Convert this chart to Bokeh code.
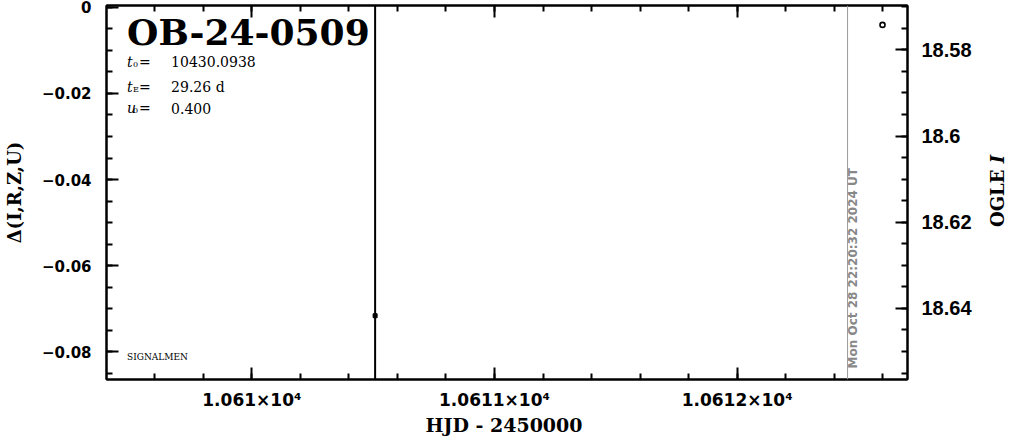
import numpy as np
from bokeh.plotting import figure
from bokeh.models import Range1d, LinearAxis, FixedTicker, Label, Span, Div
from bokeh.layouts import row, column
from bokeh.embed import file_html
from bokeh.resources import INLINE

# ---------------- data ----------------
event_name = "OB-24-0509"
t0_text = "10430.0938"
tE_text = "29.26 d"
u0_text = "0.400"

hjd = [10610.508]          # HJD - 2450000
mag = [18.6417]            # OGLE I
mag_err = [0.5]

hjd_open = [10612.599]
mag_open = [18.5742]

now_hjd = 10612.455
now_text = "Mon Oct 28 22:20:32 2024 UT"
signature = "SIGNALMEN"

x_title = "HJD - 2450000"
y_left_title = "Δ(I,R,Z,U)"
y_right_title = "OGLE <i>I</i>"

x_ticks = [10610, 10611, 10612]
x_tick_labels = ["1.061×10⁴", "1.0611×10⁴", "1.0612×10⁴"]
dy_ticks = [0.0, -0.02, -0.04, -0.06, -0.08]
dy_tick_labels = ["0", "−0.02", "−0.04", "−0.06", "−0.08"]
mag_ticks = [18.58, 18.6, 18.62, 18.64]
mag_tick_labels = ["18.58", "18.6", "18.62", "18.64"]

x_lo, x_hi = 10609.401, 10612.702
dy_lo, dy_hi = -0.0864, 0.0004
mag_base = 18.5701  # OGLE I at delta = 0


# reference-pixel helpers for annotation placement
def rx(px):
    return 10610 + (px - 252.7) / 242.5


def ry(py):
    return -(py - 7.5) / 4310.0


FIG_W, FIG_H = 974, 412

p = figure(width=FIG_W, height=FIG_H, output_backend="svg", toolbar_location=None,
           x_range=Range1d(x_lo, x_hi), y_range=Range1d(dy_lo, dy_hi),
           min_border_left=100, min_border_right=64, min_border_top=5,
           min_border_bottom=33, background_fill_color="white",
           border_fill_color="white")
p.extra_y_ranges = {"ogle": Range1d(start=mag_base - dy_lo, end=mag_base - dy_hi)}
p.xgrid.visible = False
p.ygrid.visible = False
p.outline_line_color = "black"
p.outline_line_width = 2

x_minor = [round(v, 2) for v in np.arange(10609.4, 10612.75, 0.2)]
dy_minor = [round(v, 3) for v in np.arange(-0.085, 0.001, 0.005)]
mag_minor = [round(v, 3) for v in np.arange(18.57, 18.66, 0.005)]


def style(ax):
    ax.axis_line_width = 2
    ax.axis_line_color = "black"
    ax.major_tick_in = 12
    ax.major_tick_out = 0
    ax.minor_tick_in = 6
    ax.minor_tick_out = 0
    ax.major_tick_line_width = 2
    ax.minor_tick_line_width = 2
    ax.major_label_text_color = "black"
    ax.axis_label_text_color = "black"
    ax.axis_label_text_font_style = "bold"
    ax.axis_label_text_font = "DejaVu Serif"


# bottom axis
xa = p.xaxis[0]
style(xa)
xa.ticker = FixedTicker(ticks=x_ticks, minor_ticks=x_minor)
xa.major_label_overrides = {t: l for t, l in zip(x_ticks, x_tick_labels)}
xa.major_label_text_font = "DejaVu Sans"
xa.major_label_text_font_style = "bold"
xa.major_label_text_font_size = "17px"
xa.major_label_standoff = 10

# top axis (ticks only)
ta = LinearAxis(ticker=FixedTicker(ticks=x_ticks, minor_ticks=x_minor))
style(ta)
ta.major_label_text_font_size = "1px"
ta.major_label_text_color = None
ta.major_label_standoff = 0
p.add_layout(ta, "above")

# left axis
ya = p.yaxis[0]
style(ya)
ya.ticker = FixedTicker(ticks=dy_ticks, minor_ticks=dy_minor)
ya.major_label_overrides = {t: l for t, l in zip(dy_ticks, dy_tick_labels)}
ya.major_label_text_font = "DejaVu Sans"
ya.major_label_text_font_style = "bold"
ya.major_label_text_font_size = "15px"
ya.major_label_standoff = 15
ya.axis_label = y_left_title
ya.axis_label_text_font_size = "18px"
ya.axis_label_standoff = 14

# right axis
ra = LinearAxis(y_range_name="ogle",
                ticker=FixedTicker(ticks=mag_ticks, minor_ticks=mag_minor))
style(ra)
ra.major_label_overrides = {t: l for t, l in zip(mag_ticks, mag_tick_labels)}
ra.major_label_text_font = "Liberation Sans"
ra.major_label_text_font_style = "bold"
ra.major_label_text_font_size = "20px"
ra.major_label_standoff = 14
p.add_layout(ra, "right")

# current-date line
p.add_layout(Span(location=now_hjd, dimension="height", line_color="#999999",
                  line_width=1))

# data
mag_lo = [m - e for m, e in zip(mag, mag_err)]
mag_hi = [m + e for m, e in zip(mag, mag_err)]
p.segment(x0=hjd, y0=mag_lo, x1=hjd, y1=mag_hi, y_range_name="ogle",
          line_color="black", line_width=2)
p.scatter(x=hjd, y=mag, y_range_name="ogle", marker="square", size=4,
          fill_color="black", line_color="black")
p.scatter(x=hjd_open, y=mag_open, y_range_name="ogle", marker="circle", size=5,
          fill_color=None, line_color="black", line_width=1.6)

# annotations
p.add_layout(Label(x=rx(128), y=ry(32.5), text=event_name, text_font="DejaVu Serif",
                   text_font_style="bold", text_font_size="36px",
                   text_baseline="alphabetic", text_color="black"))

params = [("t", "0", t0_text, 62.0), ("t", "E", tE_text, 87.0),
          ("u", "0", u0_text, 108.4)]
for sym, sub, val, base in params:
    p.add_layout(Label(x=rx(128), y=ry(base), text=sym, text_font="DejaVu Serif",
                       text_font_style="italic", text_font_size="14px",
                       text_baseline="alphabetic", text_color="black"))
    p.add_layout(Label(x=rx(134), y=ry(base + 2.5), text=sub, text_font="DejaVu Serif",
                       text_font_size="8px", text_baseline="alphabetic",
                       text_color="black"))
    p.add_layout(Label(x=rx(140), y=ry(base), text="=", text_font="DejaVu Serif",
                       text_font_size="14px", text_baseline="alphabetic",
                       text_color="black"))
    p.add_layout(Label(x=rx(172), y=ry(base), text=val, text_font="DejaVu Serif",
                       text_font_size="14px", text_baseline="alphabetic",
                       text_color="black"))

p.add_layout(Label(x=rx(128), y=ry(357.3), text=signature, text_font="DejaVu Serif",
                   text_font_size="9px", text_baseline="alphabetic",
                   text_color="black"))

p.add_layout(Label(x=rx(853.5), y=ry(368.8), text=now_text, angle=np.pi / 2,
                   text_font="DejaVu Sans", text_font_style="bold",
                   text_font_size="12px", text_align="left",
                   text_baseline="middle", text_color="#888888"))

# axis titles outside the plot canvas
x_div = Div(
    text=('<div style="box-sizing:border-box;width:%dpx;padding-left:34px;'
          'text-align:center;font-family:\'DejaVu Serif\';font-weight:bold;'
          'font-size:19px;line-height:16px;position:relative;top:5px;'
          'color:black;white-space:nowrap">%s</div>') % (FIG_W, x_title),
    width=FIG_W, height=420 - FIG_H, margin=0)

y_div = Div(
    text=('<div style="width:22px;height:382px;margin-left:13px;'
          'line-height:22px;text-align:center;writing-mode:vertical-rl;'
          'transform:rotate(180deg);font-family:\'DejaVu Serif\';'
          'font-weight:bold;font-size:18px;color:black;white-space:nowrap">'
          '%s</div>') % y_right_title,
    width=995 - FIG_W, height=FIG_H, margin=0)

layout = row(column(p, x_div, spacing=0), y_div, spacing=0)

open("out.html", "w").write(file_html(layout, INLINE))
